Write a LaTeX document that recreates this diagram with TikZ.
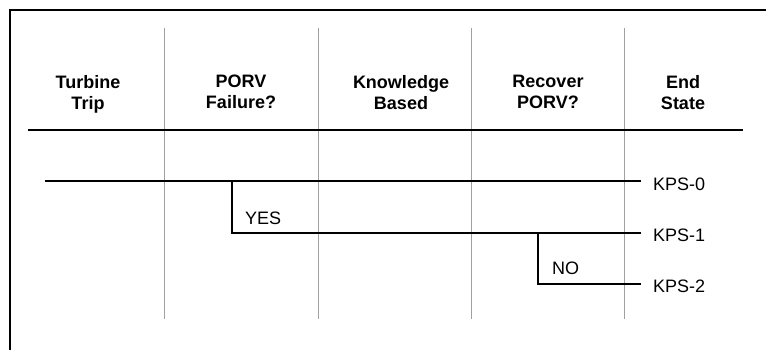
\documentclass[tikz,border=0pt]{standalone}
\usepackage{fontspec}
\setmainfont{Liberation Sans}
\definecolor{colgray}{HTML}{A0A0A0}
\begin{document}
\begin{tikzpicture}[x=1pt,y=-1pt,
  hdr/.style={font=\fontsize{18}{21}\selectfont\bfseries, align=center, anchor=north, inner sep=0pt},
  lbl/.style={font=\fontsize{18}{21}\selectfont, anchor=base west, inner sep=0pt},
  frameline/.style={line width=2pt, line join=miter},
  hrule/.style={line width=2.5pt},
  colline/.style={draw=colgray, line width=1pt},
  branch/.style={line width=1.5pt, line join=miter}]
\useasboundingbox (0,0) rectangle (766,350);
% open frame
\draw[frameline] (10,350) -- (10,10) -- (766,10);
% column separators
\foreach \x/\n in {164/a,318/b,471/c,624/d}{
  \coordinate (sep\n top) at (\x,28);
  \coordinate (sep\n bot) at (\x,319);
  \draw[colline] (sep\n top) -- (sep\n bot);
}
% header rule
\coordinate (ruleL) at (28,130);
\coordinate (ruleR) at (743,130);
\draw[hrule] (ruleL) -- (ruleR);
% headers
\node[hdr] (h1) at (88,75) {Turbine\\Trip};
\node[hdr] (h2) at (241,75) {PORV\\Failure?};
\node[hdr] (h3) at (401,75) {Knowledge\\Based};
\node[hdr] (h4) at (548,75) {Recover\\PORV?};
\node[hdr] (h5) at (683,75) {End\\State};
% branch points
\coordinate (start) at (45,181);
\coordinate (yesTop) at (232,181);
\coordinate (yesBot) at (232,233);
\coordinate (noTop) at (538,233);
\coordinate (noBot) at (538,284);
\coordinate (e0) at (641,181);
\coordinate (e1) at (641,233);
\coordinate (e2) at (641,284);
\draw[branch] (start) -- (e0);
\draw[branch] (yesTop) -- (yesBot) -- (e1);
\draw[branch] (noTop) -- (noBot) -- (e2);
% labels
\node[lbl] (yes) at (245,224) {YES};
\node[lbl] (no) at (552,274) {NO};
\node[lbl] (k0) at (653,190) {KPS-0};
\node[lbl] (k1) at (653,241) {KPS-1};
\node[lbl] (k2) at (653,292) {KPS-2};
\end{tikzpicture}
\end{document}
